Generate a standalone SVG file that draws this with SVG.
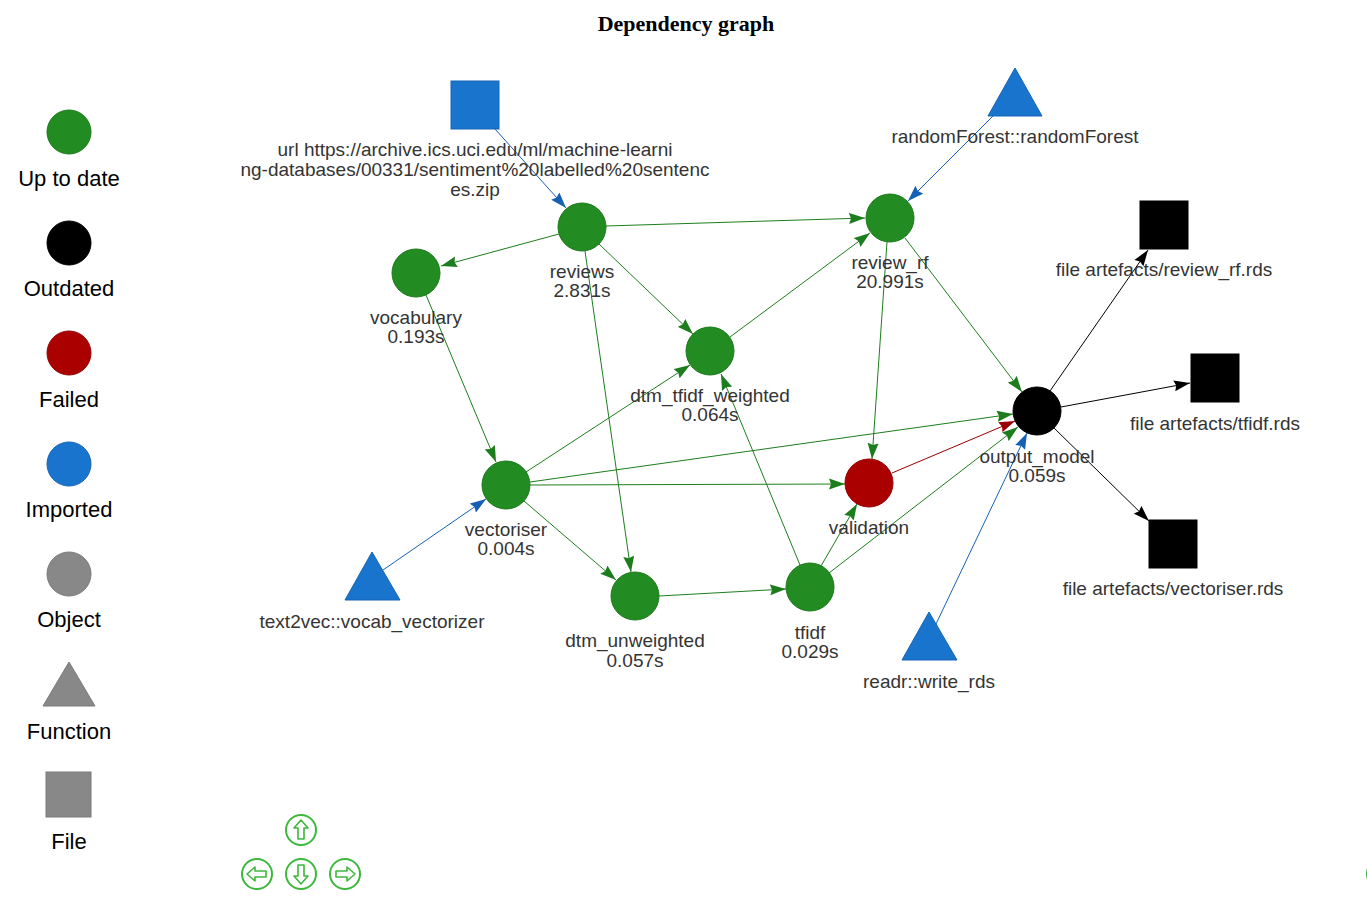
<svg xmlns="http://www.w3.org/2000/svg" width="1367" height="907" viewBox="0 0 1367 907">
<style>
.lbl{font-family:"Liberation Sans",Arial,sans-serif;font-size:19px;fill:#343434;text-anchor:middle}
.leg{font-family:"Liberation Sans",Arial,sans-serif;font-size:22px;fill:#000;text-anchor:middle}
.title{font-family:"Liberation Serif","Times New Roman",serif;font-size:22px;font-weight:bold;fill:#000;text-anchor:middle}
.ok{fill:#228B22;stroke:#1b7a1b;stroke-width:1}
.out{fill:#000;stroke:#000}
.fail{fill:#AA0000;stroke:#990000}
.imp{fill:#1874CD;stroke:#1565b5}
.obj{fill:#888;stroke:#7a7a7a}
.eg{stroke:#1d7d1d;stroke-width:1;fill:none;marker-end:url(#ag)}
.eb{stroke:#1560b5;stroke-width:1;fill:none;marker-end:url(#ab)}
.er{stroke:#990000;stroke-width:1;fill:none;marker-end:url(#ar)}
.ek{stroke:#000;stroke-width:1;fill:none;marker-end:url(#ak)}
.nav circle{fill:#fff;stroke:#3cb83c;stroke-width:2}
.nav path{fill:none;stroke:#3cb83c;stroke-width:1.6;stroke-linejoin:round}
</style>
<defs>
<marker id="ag" viewBox="0 0 17 12" refX="16" refY="6" markerWidth="17" markerHeight="12" markerUnits="userSpaceOnUse" orient="auto"><path d="M0,0.5 L16,6 L0,11.5 L2,6 z" fill="#1d7d1d"/></marker>
<marker id="ab" viewBox="0 0 17 12" refX="16" refY="6" markerWidth="17" markerHeight="12" markerUnits="userSpaceOnUse" orient="auto"><path d="M0,0.5 L16,6 L0,11.5 L2,6 z" fill="#1560b5"/></marker>
<marker id="ar" viewBox="0 0 17 12" refX="16" refY="6" markerWidth="17" markerHeight="12" markerUnits="userSpaceOnUse" orient="auto"><path d="M0,0.5 L16,6 L0,11.5 L2,6 z" fill="#990000"/></marker>
<marker id="ak" viewBox="0 0 17 12" refX="16" refY="6" markerWidth="17" markerHeight="12" markerUnits="userSpaceOnUse" orient="auto"><path d="M0,0.5 L16,6 L0,11.5 L2,6 z" fill="#000"/></marker>
</defs>
<rect width="1367" height="907" fill="#fff"/>
<text class="title" x="686" y="31">Dependency graph</text>

<g id="legend">
<circle class="ok" cx="69" cy="132" r="22"/><text class="leg" x="69" y="186">Up to date</text>
<circle class="out" cx="69" cy="243" r="22"/><text class="leg" x="69" y="296">Outdated</text>
<circle class="fail" cx="69" cy="353" r="22"/><text class="leg" x="69" y="407">Failed</text>
<circle class="imp" cx="69" cy="464" r="22"/><text class="leg" x="69" y="517">Imported</text>
<circle class="obj" cx="69" cy="574" r="22"/><text class="leg" x="69" y="627">Object</text>
<polygon class="obj" points="69,662 95,706 43,706"/><text class="leg" x="69" y="739">Function</text>
<rect class="obj" x="46" y="772" width="45" height="45"/><text class="leg" x="69" y="849">File</text>
</g>

<g id="edges">
<line class="eb" x1="495" y1="129" x2="566" y2="208"/>
<line class="eb" x1="993" y1="116" x2="908" y2="201"/>
<line class="eg" x1="559" y1="234" x2="441" y2="266"/>
<line class="eg" x1="606" y1="226" x2="865" y2="218"/>
<line class="eg" x1="599" y1="244" x2="693" y2="334"/>
<line class="eg" x1="585" y1="251" x2="631" y2="572"/>
<line class="eg" x1="426" y1="295" x2="496" y2="462"/>
<line class="eg" x1="526" y1="472" x2="690" y2="365"/>
<line class="eg" x1="530" y1="482" x2="1013" y2="414"/>
<line class="eg" x1="530" y1="485" x2="845" y2="484"/>
<line class="eg" x1="524" y1="501" x2="616" y2="580"/>
<line class="eb" x1="383" y1="570" x2="486" y2="499"/>
<line class="eg" x1="730" y1="337" x2="870" y2="233"/>
<line class="eg" x1="887" y1="242" x2="872" y2="459"/>
<line class="eg" x1="905" y1="238" x2="1022" y2="392"/>
<line class="eg" x1="659" y1="596" x2="786" y2="589"/>
<line class="eg" x1="800" y1="565" x2="721" y2="374"/>
<line class="eg" x1="821" y1="566" x2="857" y2="504"/>
<line class="eg" x1="829" y1="573" x2="1018" y2="427"/>
<line class="er" x1="892" y1="473" x2="1015" y2="421"/>
<line class="eb" x1="936" y1="624" x2="1027" y2="433"/>
<line class="ek" x1="1050" y1="391" x2="1148" y2="250"/>
<line class="ek" x1="1061" y1="407" x2="1190" y2="383"/>
<line class="ek" x1="1054" y1="428" x2="1149" y2="521"/>
</g>

<g id="n_url"><rect class="imp" x="451" y="81" width="48" height="48"/>
<text class="lbl" x="475" y="156">url https://archive.ics.uci.edu/ml/machine-learni</text>
<text class="lbl" x="475" y="176">ng-databases/00331/sentiment%20labelled%20sentenc</text>
<text class="lbl" x="475" y="196">es.zip</text></g>
<g id="n_randomForest"><polygon class="imp" points="1015,68 1042,116 988,116"/><text class="lbl" x="1015" y="143">randomForest::randomForest</text></g>
<g id="n_reviews"><circle class="ok" cx="582" cy="227" r="24"/><text class="lbl" x="582" y="278">reviews</text><text class="lbl" x="582" y="297">2.831s</text></g>
<g id="n_review_rf"><circle class="ok" cx="890" cy="218" r="24"/><text class="lbl" x="890" y="269">review_rf</text><text class="lbl" x="890" y="288">20.991s</text></g>
<g id="n_vocabulary"><circle class="ok" cx="416" cy="273" r="24"/><text class="lbl" x="416" y="324">vocabulary</text><text class="lbl" x="416" y="343">0.193s</text></g>
<g id="n_dtm_tfidf_weighted"><circle class="ok" cx="710" cy="351" r="24"/><text class="lbl" x="710" y="402">dtm_tfidf_weighted</text><text class="lbl" x="710" y="421">0.064s</text></g>
<g id="n_vectoriser"><circle class="ok" cx="506" cy="485" r="24"/><text class="lbl" x="506" y="536">vectoriser</text><text class="lbl" x="506" y="555">0.004s</text></g>
<g id="n_validation"><circle class="fail" cx="869" cy="483" r="24"/><text class="lbl" x="869" y="534">validation</text></g>
<g id="n_output_model"><circle class="out" cx="1037" cy="411" r="24"/><text class="lbl" x="1037" y="463">output_model</text><text class="lbl" x="1037" y="482">0.059s</text></g>
<g id="n_dtm_unweighted"><circle class="ok" cx="635" cy="596" r="24"/><text class="lbl" x="635" y="647">dtm_unweighted</text><text class="lbl" x="635" y="667">0.057s</text></g>
<g id="n_tfidf"><circle class="ok" cx="810" cy="587" r="24"/><text class="lbl" x="810" y="639">tfidf</text><text class="lbl" x="810" y="658">0.029s</text></g>
<g id="n_text2vec"><polygon class="imp" points="372,552 400,600 345,600"/><text class="lbl" x="372" y="628">text2vec::vocab_vectorizer</text></g>
<g id="n_readr"><polygon class="imp" points="929,612 957,660 902,660"/><text class="lbl" x="929" y="688">readr::write_rds</text></g>
<g id="n_file_review_rf"><rect class="out" x="1140" y="201" width="48" height="48"/><text class="lbl" x="1164" y="276">file artefacts/review_rf.rds</text></g>
<g id="n_file_tfidf"><rect class="out" x="1191" y="354" width="48" height="48"/><text class="lbl" x="1215" y="430">file artefacts/tfidf.rds</text></g>
<g id="n_file_vectoriser"><rect class="out" x="1149" y="520" width="48" height="48"/><text class="lbl" x="1173" y="595">file artefacts/vectoriser.rds</text></g>

<g id="nav" class="nav">
<circle cx="301" cy="830" r="15"/><path d="M301,820 L308,828 L304,828 L304,839 L298,839 L298,828 L294,828 Z"/>
<circle cx="257" cy="874" r="15"/><path d="M247,874 L255,867 L255,871 L266,871 L266,877 L255,877 L255,881 Z"/>
<circle cx="301" cy="874" r="15"/><path d="M301,884 L308,876 L304,876 L304,865 L298,865 L298,876 L294,876 Z"/>
<circle cx="345" cy="874" r="15"/><path d="M355,874 L347,867 L347,871 L336,871 L336,877 L347,877 L347,881 Z"/>
<circle cx="1382" cy="874" r="15"/>
</g>
</svg>
